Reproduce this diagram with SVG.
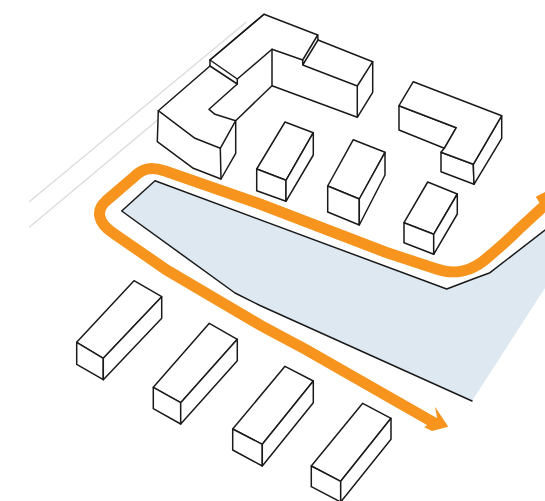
<svg xmlns="http://www.w3.org/2000/svg" width="545" height="501" viewBox="0 0 545 501">
<style>
.b{fill:#fff;stroke:#1a1a1a;stroke-width:1.5;stroke-linejoin:round;stroke-linecap:round}
.l{fill:none;stroke:#1a1a1a;stroke-width:1.5;stroke-linejoin:round;stroke-linecap:round}
.g{fill:none;stroke:#dcdcdc;stroke-width:1.4}
.o{fill:none;stroke:#f7941d;stroke-width:11}
</style>
<rect width="545" height="501" fill="#fff"/>
<g id="road-lines">
<path class="g" d="M29.3 201.7L246.7 21.7M29.3 227.3L160 118"/>
</g>
<g id="plaza">
<path d="M155 180.7L121.7 211L235 293L260 305.5L472 401L545 288V230L490 272.7L473 279L446.7 289Z" fill="#dee8f1"/>
<path class="l" d="M472 401L260 305.5L235 293L121.7 211L155 180.7L446.7 289L473 279L490 272.7L545 230"/>
</g>
<g id="route">
<path class="o" d="M438 425L306.7 350L260 325L166.7 270L113 233C97 222 96 210 106 201L134 177C142 169 150 166 165 171L260 204L385 252L435 268.5C456 276 472 271 487 258C500 247 510 238 518 230L545 205"/>
<path d="M448.3 426.7L435 406.7L437 417.5L424.3 427.3L432 431Z" fill="#f7941d"/>
<path d="M535.7 196.7L545 192V212L541 205Z" fill="#f7941d"/>
</g>
<g id="complex">
<path class="b" d="M264 14.3L317.7 35L318 40L372.7 61.7V92.3L357.3 117.3L272 85.7L235.7 120.7V153.3L221 179L193.3 168.3L157.3 141.7L158.3 110.7L210 66V60Z"/>
<path class="l" d="M210 60L264 14.3M237.3 79L272 49.3L302.7 60M237.3 84L209 109.3L215 114.3L235.7 120.7L220.3 148.3L195 138.3L158.3 110.7"/>
<path class="l" d="M210 60L237.3 79V84L210 66M317.7 35L302.7 60V65L318 40M302.7 65L357.3 86L372.7 61.7M357.3 86V117.3M272 49.3V85.7M220.3 148.3L221 179"/>
</g>
<g id="block-2"><path class="b" d="M285 122L313.3 132.7L286 180.3L256.7 169Z"/><path class="b" d="M256.7 169L286 180.3V201.3L256.7 190.7Z"/><path class="b" d="M313.3 132.7V155L286 201.3V180.3Z"/></g>
<g id="block-3"><path class="b" d="M353.3 139.7L385 152.3L359.3 199L327.7 186Z"/><path class="b" d="M327.7 186L359.3 199V225L327.7 212Z"/><path class="b" d="M385 152.3V175L359.3 225V199Z"/></g>
<g id="block-l">
<path class="b" d="M399 105.7L456.3 127.7L444.3 148.3L399 130Z"/>
<path class="b" d="M441 152.3L473.3 164.3L474 184.3L441 171.7Z"/>
<path class="b" d="M473.3 164.3L501.7 115.7V138.3L474 184.3Z"/>
<path class="b" d="M413.3 81.7L501.7 115.7L473.3 164.3L441 152.3L444.3 148.3L456.3 127.7L399 105.7Z"/>
</g>
<g id="block-4"><path class="b" d="M427.7 182L457.3 194L433.7 234.3L404 222.7Z"/><path class="b" d="M404 222.7L433.7 234.3V254.3L404 242.7Z"/><path class="b" d="M457.3 194V214L433.7 254.3V234.3Z"/></g>
<g id="bar-1"><path class="b" d="M134 280.7L161.7 296.7L103.3 358.3L76.7 342.3Z"/><path class="b" d="M76.7 342.3L103.3 358.3V379.7L76.7 364.3Z"/><path class="b" d="M161.7 296.7V318.3L103.3 379.7V358.3Z"/></g>
<g id="bar-2"><path class="b" d="M209.3 323.3L237.3 339.3L180.7 402.7L153.3 387.3Z"/><path class="b" d="M153.3 387.3L180.7 402.7V424L153.3 408.7Z"/><path class="b" d="M237.3 339.3V360.7L180.7 424V402.7Z"/></g>
<g id="bar-3"><path class="b" d="M285 366.3L313.3 381L262.3 444.3L232.7 429Z"/><path class="b" d="M232.7 429L262.3 444.3V466L232.7 450Z"/><path class="b" d="M313.3 381V402.7L262.3 466V444.3Z"/></g>
<g id="bar-4"><path class="b" d="M362.7 403.3L391 418.3L340.7 481.3L311.3 466Z"/><path class="b" d="M311.3 466L340.7 481.3V502L311.3 486.7Z"/><path class="b" d="M391 418.3V439.3L340.7 502V481.3Z"/></g>
</svg>
